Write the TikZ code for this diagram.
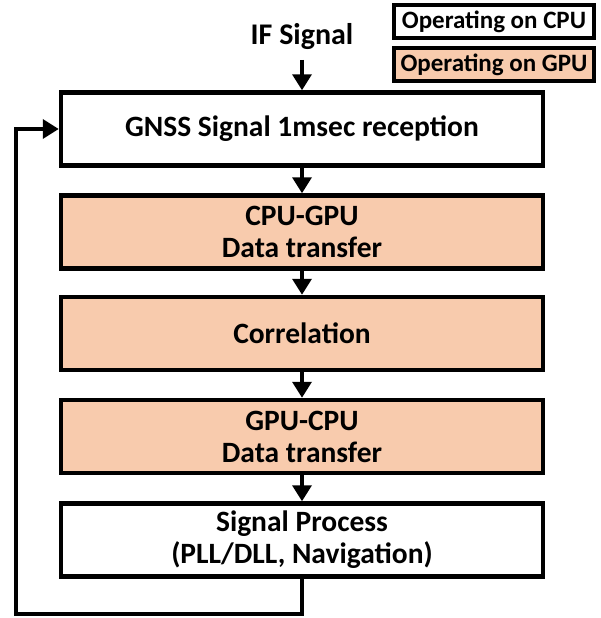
\documentclass[tikz,border=0pt]{standalone}
\usepackage{fontspec}
\setmainfont{Carlito}
\usetikzlibrary{arrows.meta,positioning}
\definecolor{gpufill}{HTML}{F8CBAD}
\tikzset{
  blk/.style={draw=black, line width=4.5pt, minimum width=482pt, minimum height=73pt, align=center, font=\fontsize{29.5}{32}\selectfont\bfseries, inner sep=0pt},
  cpu/.style={blk, fill=white},
  gpu/.style={blk, fill=gpufill},
  leg/.style={draw=black, line width=4.5pt, minimum width=200pt, minimum height=33pt, font=\fontsize{25}{28}\selectfont\bfseries, inner sep=0pt},
  conn/.style={line width=3.5pt, -{Triangle[length=16pt,width=19pt]}},
}
\begin{document}
\begin{tikzpicture}[x=1pt,y=-1pt]
\useasboundingbox (0,0) rectangle (601,618);
\node[cpu] (rx) at (302,129) {GNSS Signal 1msec reception};
\node[gpu] (cg) at (302,232) {CPU-GPU\\Data transfer};
\node[gpu] (co) at (302,333.5) {Correlation};
\node[gpu] (gc) at (302,436.5) {GPU-CPU\\Data transfer};
\node[cpu] (sp) at (302,540) {Signal Process\\(PLL/DLL, Navigation)};
\node[font=\fontsize{30}{32}\selectfont\bfseries, inner sep=0pt] (if) at (302,37) {IF Signal};
\node[leg, fill=white] (lc) at (494,21.5) {Operating on CPU};
\node[leg, fill=gpufill] (lg) at (494,64.5) {Operating on GPU};
\coordinate (ifa) at (302,60);
\coordinate (b1) at (302,614);
\coordinate (b2) at (16,614);
\coordinate (b3) at (16,129);
\draw[conn] (ifa) -- (rx.north);
\draw[conn] (rx.south) -- (cg.north);
\draw[conn] (cg.south) -- (co.north);
\draw[conn] (co.south) -- (gc.north);
\draw[conn] (gc.south) -- (sp.north);
\draw[conn] (sp.south) -- (b1) -- (b2) -- (b3) -- (rx.west);
\end{tikzpicture}
\end{document}
